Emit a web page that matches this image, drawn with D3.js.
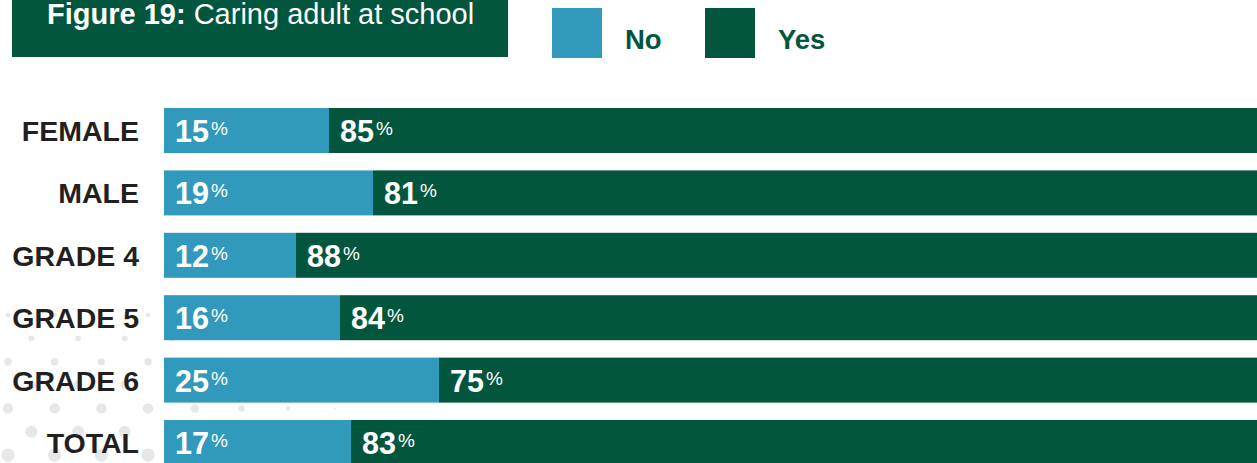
<!DOCTYPE html>
<html>
<head>
<meta charset="utf-8">
<script src="https://cdn.jsdelivr.net/npm/d3@7"></script>
<style>
  html, body { margin: 0; padding: 0; background: #ffffff; overflow: hidden; }
  svg { display: block; font-family: "Liberation Sans", Arial, Helvetica, sans-serif; }
</style>
</head>
<body>
<svg id="chart" width="1257" height="463"></svg>
<script>
// Survey results: share of students reporting a caring adult at school
const categories = ["FEMALE", "MALE", "GRADE 4", "GRADE 5", "GRADE 6", "TOTAL"];
const noValues   = [15, 19, 12, 16, 25, 17];
const yesValues  = [85, 81, 88, 84, 75, 83];
const seriesNames = ["No", "Yes"];

const titleBold = "Figure 19:";
const titleText = "Caring adult at school";

const BLUE = "#3199bc";
const GREEN = "#02563e";
const INK = "#231f20";
const DOT = "#e6e7e8";

const svg = d3.select("#chart");

// Decorative halftone dots behind the lower-left labels
const deco = svg.append("g");
const dotCols = d3.range(0, 16);
const dotRows = d3.range(0, 7);
const dots = [];
dotRows.forEach(j => {
  dotCols.forEach(k => {
    if ((j + k) % 2 !== 0) return;
    const cx = 8 + k * 23.35;
    const cy = 315 + j * 23.35;
    const base = 2.2 + (cy - 315) * 0.032;
    const fade = Math.max(0, Math.min(1, (375 - cx) / 220));
    const r = base * fade;
    if (r > 0.4) dots.push({cx, cy, r});
  });
});
deco.selectAll("circle").data(dots).join("circle")
  .attr("cx", d => d.cx).attr("cy", d => d.cy).attr("r", d => d.r)
  .attr("fill", DOT);

// Scales
const x = d3.scaleLinear().domain([0, 100]).range([164, 1264]);
const y = d3.scaleBand().domain(categories).range([108, 465]).paddingInner(0.279).paddingOuter(0);

const rows = categories.map((c, i) => ({cat: c, no: noValues[i], yes: yesValues[i]}));

// Stacked bars
const stack = d3.stack().keys(["no", "yes"])(rows);
const colors = {no: BLUE, yes: GREEN};
const barG = svg.append("g");
stack.forEach(layer => {
  barG.append("g").attr("fill", colors[layer.key])
    .selectAll("rect").data(layer).join("rect")
    .attr("x", d => x(d[0]))
    .attr("y", d => y(d.data.cat))
    .attr("width", d => x(d[1]) - x(d[0]))
    .attr("height", y.bandwidth());
});

// Value labels with raised percent sign
stack.forEach(layer => {
  layer.forEach(d => {
    const val = d.data[layer.key];
    const t = svg.append("text")
      .attr("x", x(d[0]) + 11)
      .attr("y", y(d.data.cat) + y.bandwidth() / 2 + 11.5)
      .attr("fill", "#ffffff")
      .attr("font-weight", "bold")
      .attr("font-size", 30.5);
    t.append("tspan").text(val);
    t.append("tspan").attr("font-size", 19).attr("font-weight", "normal")
      .attr("dx", 2).attr("dy", -7).text("%");
  });
});

// Category axis labels
const yAxis = d3.axisLeft(y).tickSize(0).tickPadding(0);
const axG = svg.append("g").attr("transform", "translate(139,0)").call(yAxis);
axG.select(".domain").remove();
axG.selectAll("text")
  .attr("x", 0)
  .attr("dy", null)
  .attr("y", 10.5)
  .attr("font-family", "'Liberation Sans', Arial, Helvetica, sans-serif")
  .attr("font-size", 28.5)
  .attr("font-weight", "bold")
  .attr("fill", INK)
  .attr("text-anchor", "end");

// Title box
svg.append("rect").attr("x", 12).attr("y", 0).attr("width", 496).attr("height", 57).attr("fill", GREEN);
const title = svg.append("text").attr("x", 47).attr("y", 24).attr("fill", "#ffffff").attr("font-size", 29);
title.append("tspan").attr("font-weight", "bold").text(titleBold);
title.append("tspan").text(" " + titleText);

// Legend
const legend = svg.append("g");
const legendX = [552, 705];
seriesNames.forEach((name, i) => {
  legend.append("rect").attr("x", legendX[i]).attr("y", 8).attr("width", 50).attr("height", 50)
    .attr("fill", i === 0 ? BLUE : GREEN);
  legend.append("text").attr("x", legendX[i] + 73).attr("y", 48.5)
    .attr("fill", GREEN).attr("font-weight", "bold").attr("font-size", 27.5)
    .text(name);
});
</script>
</body>
</html>
